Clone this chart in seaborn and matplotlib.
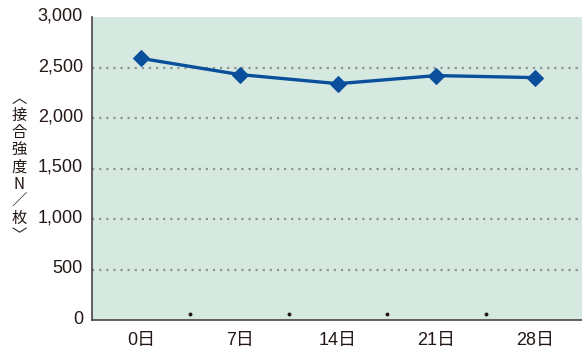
import matplotlib
matplotlib.use("Agg")
import matplotlib.pyplot as plt
import matplotlib.transforms as mtransforms
import seaborn as sns
import pandas as pd

days = ["0日", "7日", "14日", "21日", "28日"]
strength = [2590, 2430, 2340, 2420, 2400]
y_ticks = [0, 500, 1000, 1500, 2000, 2500, 3000]
y_tick_labels = ["0", "500", "1,000", "1,500", "2,000", "2,500", "3,000"]
y_label_chars = ["︿", "接", "合", "強", "度", "N", "／", "枚", "﹀"]

sns.set_theme(style="white")
plt.rcParams["font.family"] = ["Liberation Sans", "Noto Sans CJK JP", "DejaVu Sans"]

df = pd.DataFrame({"day": days, "strength": strength})

fig = plt.figure(figsize=(5.82, 3.52), dpi=100)
ax = fig.add_axes([92 / 582, 1 - 320 / 352, 492 / 582, 303 / 352])
ax.set_facecolor("#d5e9e0")

sns.lineplot(data=df, x="day", y="strength", ax=ax, color="#0a4f9c",
             linewidth=2.4, marker="D", markersize=8.5,
             markeredgecolor="#0a4f9c", sort=False)

ax.set_xlim(-0.5, 4.5)
ax.set_ylim(0, 3000)
ax.set_yticks(y_ticks)
ax.set_yticklabels(y_tick_labels)
ax.tick_params(axis="both", length=0, labelsize=13, colors="#231815")
ax.tick_params(axis="y", pad=6.5)
ax.tick_params(axis="x", pad=9)
for lbl in ax.get_xticklabels():
    lbl.set_fontfamily(["Liberation Sans", "Noto Sans CJK JP"])
# value labels sit slightly above their gridlines
shift_up = mtransforms.ScaledTranslation(0, 3 / 100, fig.dpi_scale_trans)
for lbl in ax.get_yticklabels():
    lbl.set_transform(lbl.get_transform() + shift_up)

for v in y_ticks[1:-1]:
    ax.axhline(v, color="#8a9690", linestyle=(0, (1, 2.2)), linewidth=1.6, zorder=0.5)

# small separator dots between day categories
trans = mtransforms.blended_transform_factory(ax.transData, ax.transAxes)
for xb in [0.5, 1.5, 2.5, 3.5]:
    ax.plot([xb], [0.02], marker="o", markersize=1.8, color="#231815",
            transform=trans, clip_on=False)

for side in ["top", "right"]:
    ax.spines[side].set_visible(False)
for side in ["left", "bottom"]:
    ax.spines[side].set_color("#4a4545")
    ax.spines[side].set_linewidth(1.2)

ax.set_xlabel("")
ax.set_ylabel("")

fig.text(19 / 582, 1 - 167 / 352, "\n".join(y_label_chars), ha="center", va="center",
         fontsize=11, linespacing=1.02, color="#231815",
         family=["Noto Sans CJK JP", "DejaVu Sans"])

fig.savefig("out.png", dpi=100)
